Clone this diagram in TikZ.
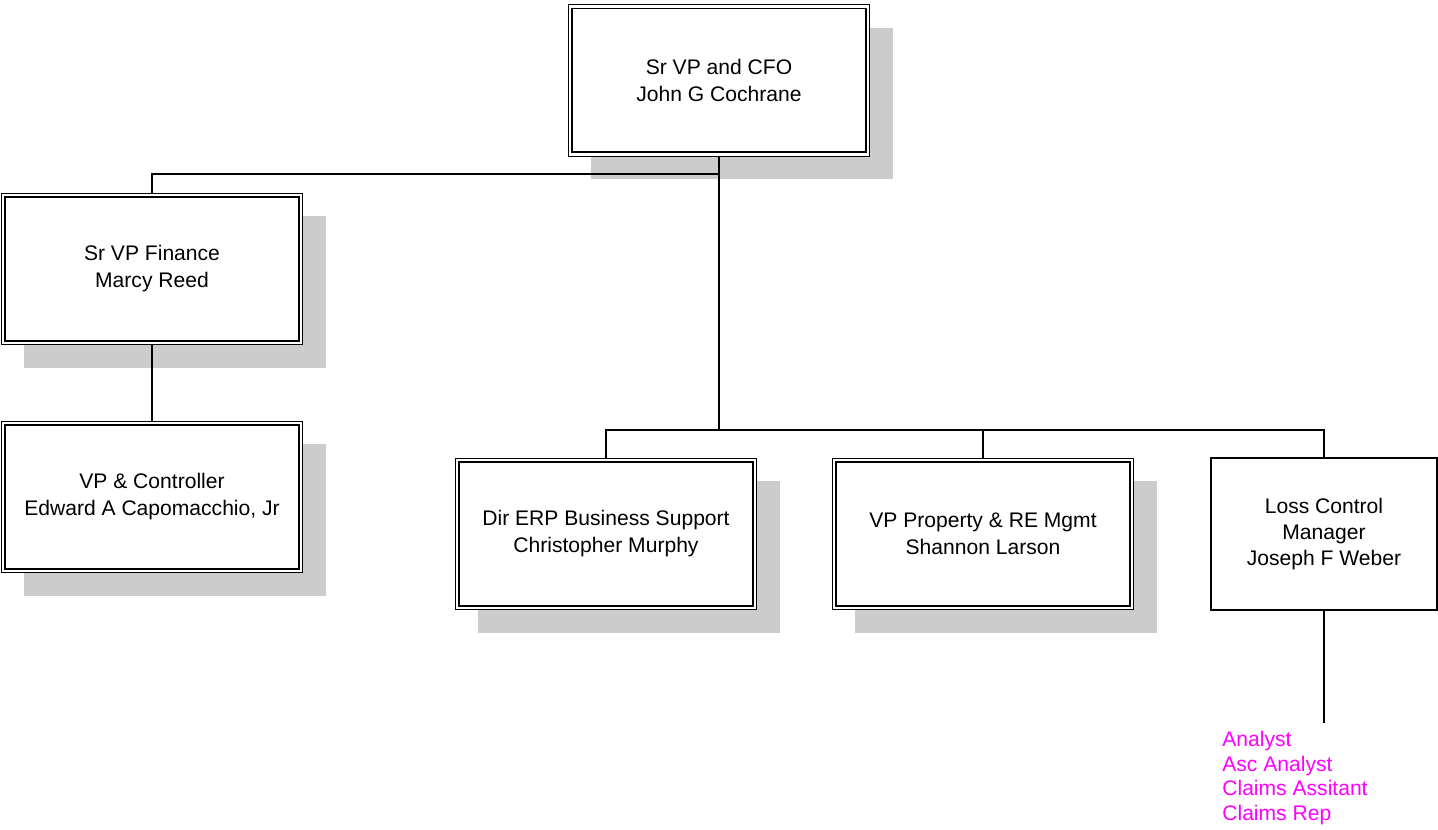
\documentclass[tikz,border=0pt]{standalone}
\usepackage{fontspec}
\setmainfont{Liberation Sans}
\usepackage{xcolor}
\usepackage{tikz}
\usetikzlibrary{shadows, positioning}

\definecolor{staffpink}{HTML}{FF00FF}

\begin{document}
\begin{tikzpicture}[
    x=0.02cm, y=-0.02cm,
    post/.style={
        rectangle, draw=black, line width=0.55pt,
        fill=white,
        minimum width=6.04cm, minimum height=3.04cm,
        text centered, align=center,
        font=\fontsize{12}{15.4}\selectfont,
        drop shadow={shadow xshift=0.46cm, shadow yshift=-0.46cm,
                     fill=black!20, opacity=1}
    },
    plainpost/.style={
        rectangle, draw=black, line width=0.85pt,
        fill=white,
        minimum width=4.52cm, minimum height=3.04cm,
        text centered, align=center,
        font=\fontsize{12}{15}\selectfont
    },
    frame/.style={line width=1.1pt},
    link/.style={line width=0.8pt},
    trunk/.style={line width=1.2pt},
    staff/.style={font=\fontsize{12}{14}\selectfont, text=staffpink,
        align=left, anchor=north west, inner sep=0pt},
]

\useasboundingbox (0,0) rectangle (1438,830);

% Caselle
\node[post] (cfo)  at (719,80.5) {Sr VP and CFO\\John G Cochrane};
\node[post] (fin)  at (152,269)  {Sr VP Finance\\Marcy Reed};
\node[post] (ctrl) at (152,497)  {VP \& Controller\\Edward A Capomacchio, Jr};
\node[post] (erp)  at (606,534)  {Dir ERP Business Support\\Christopher Murphy};
\node[post] (prop) at (983,534)  {VP Property \& RE Mgmt\\Shannon Larson};
\node[plainpost] (loss) at (1324,534) {Loss Control\\Manager\\Joseph F Weber};

% Bordo interno
\foreach \n in {cfo,fin,ctrl,erp,prop}
    \draw[frame] ([shift={(4.5,4.5)}]\n.north west)
        rectangle ([shift={(-4.5,-4.5)}]\n.south east);

% Sotto il manager
\node[staff] (lcstaff) at (1222,731)
    {Analyst\\Asc Analyst\\Claims Assitant\\Claims Rep};

% Punti di raccordo
\coordinate (topbus) at (719,174);
\coordinate (lowbus) at (719,430);
\coordinate (lcend)  at (1324,723);

% Linee
\draw[trunk] (cfo.south) -- (lowbus);
\draw[link] (fin.north) |- (topbus);
\draw[link] (fin.south) -- (ctrl.north);
\draw[link] (erp.north) |- (lowbus) -| (loss.north);
\draw[link] (prop.north) -- (prop.north |- lowbus);
\draw[link] (loss.south) -- (lcend);

\end{tikzpicture}
\end{document}
